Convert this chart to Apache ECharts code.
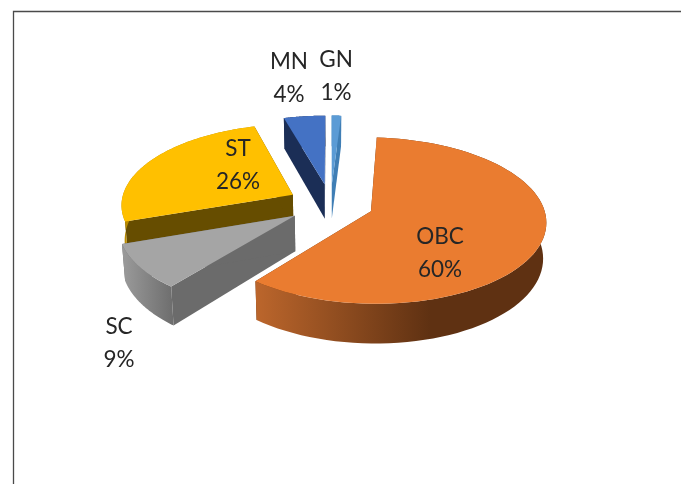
<!DOCTYPE html>
<html>
<head>
<meta charset="utf-8">
<title>Category share</title>
<script src="https://cdn.jsdelivr.net/npm/echarts@6/dist/echarts.min.js"></script>
<style>
	html, body { margin: 0; padding: 0; background: #fff; }
	#main { width: 681px; height: 484px; }
</style>
</head>
<body>
<div id="main"></div>
<script>
// clockwise from the top of the pie
var categories = [ 'GN', 'OBC', 'SC', 'ST', 'MN' ];
var values = [ 1, 59.8, 8.9, 25.9, 4.4 ];

var topColors = [ '#5B9BD5', '#EA7C30', '#A5A5A5', '#FFC000', '#4472C4' ];
var wallColors = [ '#3F7EB5', '#5F3112', '#6B6B6B', '#664D00', '#1B2E56' ];
var rimColors = [
	[ '#3F7EB5', '#3F7EB5' ],
	[ '#BC662C', '#5F3112' ],
	[ '#9B9B9B', '#6D6D6D' ],
	[ '#B88A00', '#B88A00' ],
	[ '#1B2E56', '#1B2E56' ]
];
var rimStops = [ 1, 0.6, 1, 1, 1 ];
// label centres in pixels
var labelX = [ 336, 440, 119, 238, 289 ];
var labelY = [ 76, 253, 343, 165, 78 ];

// fake 3D projection of the pie
var cx = 330.5, cy = 204;
var rx = 172, ry = 80.5;
var persp = 0.11;
var explode = 0.25;
var depth = 35;
var bottomScale = 0.985;

var total = 0;
for (var i = 0; i < values.length; i++) {
	total += values[i];
}

function project(u, v, lower) {
	var s = 1 / (1 + persp * v);
	var x = rx * u * s;
	var y = cy - ry * v * s;
	if (lower) {
		x = x * bottomScale;
		y = y + depth * s;
	}
	return [ cx + x, y ];
}

function sliceRange(index) {
	var sum = 0;
	for (var i = 0; i < index; i++) {
		sum += values[i];
	}
	return [ sum / total * Math.PI * 2, (sum + values[index]) / total * Math.PI * 2 ];
}

function arcPoints(range, ou, ov, lower) {
	var pts = [];
	var steps = 80;
	for (var i = 0; i <= steps; i++) {
		var a = range[0] + (range[1] - range[0]) * i / steps;
		pts.push(project(ou + Math.sin(a), ov + Math.cos(a), lower));
	}
	return pts;
}

function polygon(points, fill, z2) {
	return {
		type : 'polygon',
		z2 : z2,
		silent : true,
		shape : { points : points },
		style : { fill : fill }
	};
}

function renderSlice(params, api) {
	var idx = params.dataIndex;
	var range = sliceRange(idx);
	var mid = (range[0] + range[1]) / 2;
	var ou = explode * Math.sin(mid);
	var ov = explode * Math.cos(mid);
	// slices further back get painted first
	var base = Math.round((2 - ov) * 100) * 10;

	var upper = arcPoints(range, ou, ov, false);
	var lower = arcPoints(range, ou, ov, true);
	var apexUp = project(ou, ov, false);
	var apexLow = project(ou, ov, true);
	var last = upper.length - 1;

	var rimFill = new echarts.graphic.LinearGradient(0, 0, 1, 0, [
		{ offset : 0, color : rimColors[idx][0] },
		{ offset : rimStops[idx], color : rimColors[idx][1] },
		{ offset : 1, color : rimColors[idx][1] }
	]);

	return {
		type : 'group',
		children : [
			polygon([ apexUp, upper[0], lower[0], apexLow ], wallColors[idx], base),
			polygon([ apexUp, upper[last], lower[last], apexLow ], wallColors[idx], base + 1),
			polygon(upper.concat(lower.slice().reverse()), rimFill, base + 2),
			polygon([ apexUp ].concat(upper), topColors[idx], base + 3),
			{
				type : 'text',
				z2 : 9000,
				silent : true,
				x : labelX[idx],
				y : labelY[idx],
				style : {
					text : categories[idx] + '\n' + Math.round(values[idx]) + '%',
					fill : '#262626',
					font : '22.5px Lato',
					lineHeight : 33,
					align : 'center',
					verticalAlign : 'middle'
				}
			}
		]
	};
}

var data = [];
for (var j = 0; j < categories.length; j++) {
	data.push({ name : categories[j], value : values[j] });
}

var myChart = echarts.init(document.getElementById('main'), null, { renderer : 'canvas' });
var option = {
	animation : false,
	backgroundColor : '#fff',
	graphic : [ {
		type : 'polyline',
		silent : true,
		shape : { points : [ [ 13.5, 484 ], [ 13.5, 11.5 ], [ 681, 11.5 ] ] },
		style : { stroke : '#4a4a4a', lineWidth : 1.3, fill : null }
	} ],
	series : [ {
		type : 'custom',
		coordinateSystem : 'none',
		renderItem : renderSlice,
		data : data
	} ]
};
myChart.setOption(option);
</script>
</body>
</html>
